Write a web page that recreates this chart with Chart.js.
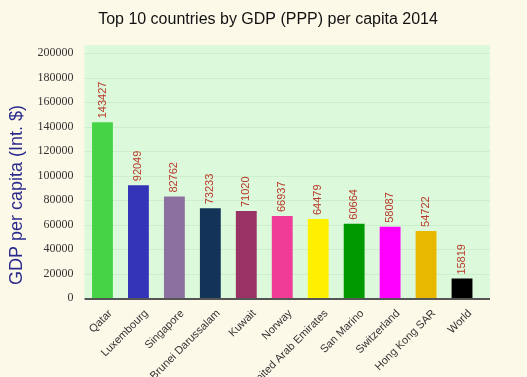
<!DOCTYPE html>
<html>
<head>
<meta charset="utf-8">
<script src="https://cdn.jsdelivr.net/npm/chart.js@4/dist/chart.umd.min.js"></script>
<style>
	html, body { margin: 0; padding: 0; background: #fdf9e9; }
	#wrap { width: 527px; height: 377px; }
</style>
</head>
<body>
<div id="wrap"><canvas id="gdpChart" width="527" height="377"></canvas></div>
<script>
var countries = ["Qatar", "Luxembourg", "Singapore", "Brunei Darussalam", "Kuwait", "Norway",
	"United Arab Emirates", "San Marino", "Switzerland", "Hong Kong SAR", "World"];
var gdpValues = [143427, 92049, 82762, 73233, 71020, 66937, 64479, 60664, 58087, 54722, 15819];
var barColors = ["#46d446", "#3434b8", "#8c70a0", "#143358", "#993366", "#f03c96",
	"#fff000", "#009a00", "#ff00ff", "#e8b800", "#000000"];
var yTicks = [0, 20000, 40000, 60000, 80000, 100000, 120000, 140000, 160000, 180000, 200000];

// plot background + grid, slightly larger than the chart area like the original
var backdrop = {
	id: 'backdrop',
	beforeDatasetsDraw: function (chart) {
		var ctx = chart.ctx, a = chart.chartArea, y = chart.scales.y;
		ctx.save();
		ctx.fillStyle = '#dcf9dc';
		ctx.fillRect(a.left, a.top - 8, a.right - a.left + 10, a.bottom - a.top + 8);
		ctx.strokeStyle = '#cbeecb';
		ctx.lineWidth = 1;
		yTicks.forEach(function (v) {
			if (v === 0) return;
			var py = Math.round(y.getPixelForValue(v)) + 0.5;
			ctx.beginPath();
			ctx.moveTo(a.left, py);
			ctx.lineTo(a.right + 10, py);
			ctx.stroke();
		});
		ctx.restore();
	},
	afterDatasetsDraw: function (chart) {
		var ctx = chart.ctx, a = chart.chartArea;
		ctx.save();
		ctx.strokeStyle = '#555555';
		ctx.lineWidth = 2;
		ctx.beginPath();
		ctx.moveTo(a.left, a.bottom + 1);
		ctx.lineTo(a.right + 10, a.bottom + 1);
		ctx.stroke();

		// value labels, turned upright above each bar
		var meta = chart.getDatasetMeta(0);
		ctx.fillStyle = '#b83a2a';
		ctx.font = '11px Arial, "Liberation Sans", sans-serif';
		ctx.textAlign = 'left';
		ctx.textBaseline = 'middle';
		meta.data.forEach(function (bar, i) {
			ctx.save();
			ctx.translate(bar.x, bar.y - 4);
			ctx.rotate(-Math.PI / 2);
			ctx.fillText(String(gdpValues[i]), 0, 0);
			ctx.restore();
		});

		// titles
		ctx.fillStyle = '#111111';
		ctx.font = '16px Arial, "Liberation Sans", sans-serif';
		ctx.textAlign = 'center';
		ctx.textBaseline = 'middle';
		ctx.fillText('Top 10 countries by GDP (PPP) per capita 2014', 268, 20);

		ctx.save();
		ctx.translate(17, 195);
		ctx.rotate(-Math.PI / 2);
		ctx.fillStyle = '#2b2b8c';
		ctx.font = '18px Arial, "Liberation Sans", sans-serif';
		ctx.fillText('GDP per capita (Int. $)', 0, 0);
		ctx.restore();
		ctx.restore();
	}
};

var gdpChart = new Chart(document.getElementById('gdpChart').getContext('2d'), {
	type: 'bar',
	plugins: [backdrop],
	data: {
		labels: countries,
		datasets: [{
			data: gdpValues,
			backgroundColor: barColors,
			borderWidth: 0,
			barPercentage: 0.58,
			categoryPercentage: 1
		}]
	},
	options: {
		responsive: false,
		animation: false,
		layout: { padding: { top: 53, right: 47, left: 0, bottom: 0 } },
		plugins: {
			legend: { display: false },
			tooltip: { enabled: false }
		},
		scales: {
			x: {
				grid: { display: false, drawTicks: false },
				border: { display: false },
				ticks: {
					autoSkip: false,
					minRotation: 45,
					maxRotation: 45,
					padding: 9,
					labelOffset: 8,
					color: '#333333',
					font: { family: 'Arial, "Liberation Sans", sans-serif', size: 11 }
				},
				afterFit: function (scale) { scale.height = 79; }
			},
			y: {
				min: 0,
				max: 200000,
				grid: { display: false, drawTicks: false },
				border: { display: false },
				ticks: {
					stepSize: 20000,
					padding: 11,
					color: '#333333',
					font: { family: '"Liberation Serif", "Times New Roman", serif', size: 12 },
					callback: function (v) { return String(v); }
				},
				afterFit: function (scale) { scale.width = 84.5; }
			}
		}
	}
});
</script>
</body>
</html>
